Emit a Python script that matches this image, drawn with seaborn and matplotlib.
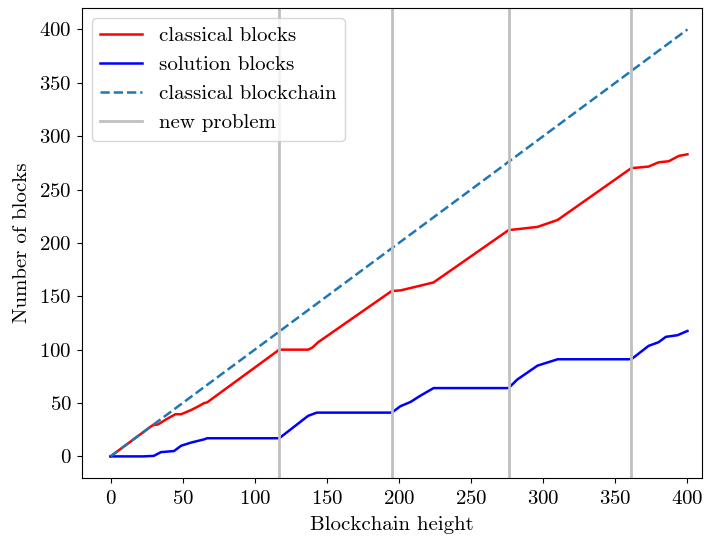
import numpy as np
import pandas as pd
import matplotlib
matplotlib.use("Agg")
import matplotlib.pyplot as plt
import seaborn as sns

plt.rcParams['font.family'] = 'serif'
plt.rcParams['font.serif'] = ['cmr10']
plt.rcParams['mathtext.fontset'] = 'cm'
plt.rcParams['axes.formatter.use_mathtext'] = True
plt.rcParams['axes.unicode_minus'] = False

# Breakpoints
classical_x = [0, 23, 29, 33, 39, 45, 49, 56, 61, 65, 67, 117, 137, 140, 144, 195,
               201, 215, 224, 276, 283, 296, 310, 361, 373, 380, 387, 394, 400]
classical_y = [0, 23, 29, 30, 35, 39.5, 39.5, 43.5, 47, 50, 50.6, 100, 100, 102, 107, 155,
               155.5, 160, 163, 212, 213, 215, 221.5, 270, 271.5, 275.5, 276.5, 281.5, 283]

solution_x = [0, 23, 30, 35, 44, 49, 56, 65, 67, 117, 137, 143, 195, 201, 208, 215, 224, 276,
              282, 296, 310, 361, 363, 373, 380, 385, 393, 400]
solution_y = [0, 0, 0.5, 4, 5, 10, 13, 16, 17, 17, 38, 41, 41, 47, 51, 57, 64, 64,
              72, 85, 91, 91, 93, 103.5, 107, 112, 113.5, 117.5]

blockchain_x = [0, 400]
blockchain_y = [0, 400]

new_problem_x = [117, 195, 276, 361]

fig, ax = plt.subplots(figsize=(7.04, 5.38), dpi=100)

sns.lineplot(x=classical_x, y=classical_y, ax=ax, color='red', lw=1.8, label='classical blocks')
sns.lineplot(x=solution_x, y=solution_y, ax=ax, color='blue', lw=1.8, label='solution blocks')
sns.lineplot(x=blockchain_x, y=blockchain_y, ax=ax, color='#1f77b4', lw=1.8,
             linestyle='--', label='classical blockchain')
for i, xv in enumerate(new_problem_x):
    ax.axvline(xv, color='silver', lw=2, label='new problem' if i == 0 else None)

ax.set_xlabel('Blockchain height', fontsize=15, labelpad=6)
ax.set_ylabel('Number of blocks', fontsize=15, labelpad=6)
ax.set_xticks(np.arange(0, 401, 50))
ax.set_yticks(np.arange(0, 401, 50))
ax.tick_params(labelsize=15)
ax.tick_params(axis='x', pad=5)
ax.set_xlim(-20, 410)
ax.set_ylim(-20, 420)
ax.legend(loc='upper left', fontsize=15)

fig.subplots_adjust(left=0.116, right=0.997, bottom=0.112, top=0.985)
fig.savefig('out.png', dpi=100)
